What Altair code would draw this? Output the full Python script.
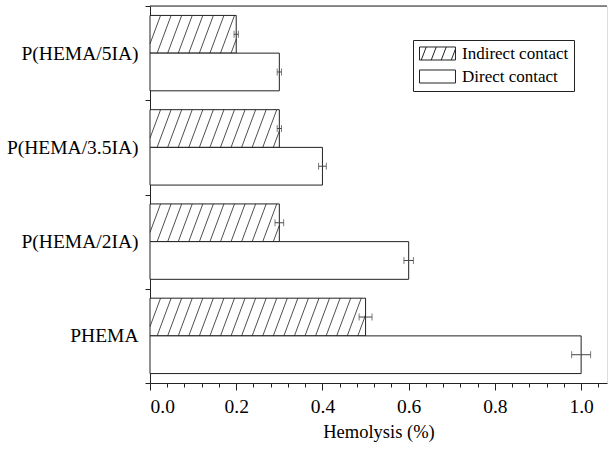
import json
import altair as alt
import pandas as pd

categories = ["P(HEMA/5IA)", "P(HEMA/3.5IA)", "P(HEMA/2IA)", "PHEMA"]
series = ["Indirect contact", "Direct contact"]
indirect = [0.20, 0.30, 0.30, 0.50]
direct = [0.30, 0.40, 0.60, 1.00]
indirect_err = [0.005, 0.005, 0.010, 0.015]
direct_err = [0.005, 0.009, 0.011, 0.022]
x_tick_values = [0.0, 0.04, 0.08, 0.12, 0.16, 0.2, 0.24, 0.28, 0.32, 0.36, 0.4,
                 0.44, 0.48, 0.52, 0.56, 0.6, 0.64, 0.68, 0.72, 0.76, 0.8,
                 0.84, 0.88, 0.92, 0.96, 1.0, 1.04]

FONT = "Liberation Serif"
INK = "#222222"
W, H = 457, 377
HATCH_STEP = 0.0245   # horizontal hatch spacing, in x units
HATCH_RUN = 0.0325    # horizontal run of one hatch stroke, in x units

rows = []
for c, a, b, ea, eb in zip(categories, indirect, direct, indirect_err, direct_err):
    rows.append({"cat": c, "series": series[0], "value": a, "err": ea})
    rows.append({"cat": c, "series": series[1], "value": b, "err": eb})
df = pd.DataFrame(rows)

base = alt.Chart(df).transform_calculate(
    lo="datum.value - datum.err", hi="datum.value + datum.err"
)

major = "abs(datum.value*5 - round(datum.value*5)) < 0.01"

x_axis = alt.Axis(
    values=x_tick_values, title="Hemolysis (%)",
    labelExpr=f"{major} ? format(datum.value, '.1f') : ''",
    tickSize={"condition": {"test": major, "value": 7}, "value": 4},
    labelPadding=7, titlePadding=7, labelOverlap=False,
    labelFont=FONT, labelFontSize=19.5, titleFont=FONT, titleFontSize=18.5,
    titleFontWeight="normal", labelColor="black", titleColor="black",
    domainColor=INK, tickColor=INK, grid=False,
)
x_scale = alt.Scale(domain=[0, 1.06], nice=False, zero=True)

y_enc = alt.Y(
    "cat:N", sort=categories,
    scale=alt.Scale(domain=categories, paddingInner=0, paddingOuter=0),
    axis=alt.Axis(title=None, tickBand="extent", tickSize=5, labelPadding=7,
                  labelFont=FONT, labelFontSize=19.5, labelColor="black",
                  domainColor=INK, tickColor=INK, grid=False),
)
yoff = alt.YOffset(
    "series:N", sort=series,
    scale=alt.Scale(domain=series, paddingInner=0, paddingOuter=0.25),
)

bars = base.mark_bar(fill="white", stroke=INK, strokeWidth=1).encode(
    x=alt.X("value:Q", scale=x_scale, axis=x_axis), y=y_enc, yOffset=yoff
)
err = base.mark_rule(color="#444444", strokeWidth=1).encode(
    x=alt.X("lo:Q", scale=x_scale, axis=x_axis), x2="hi:Q", y=y_enc, yOffset=yoff
)
cap_lo = base.mark_tick(color="#444444", orient="vertical", size=7, thickness=1).encode(
    x=alt.X("lo:Q", scale=x_scale, axis=x_axis), y=y_enc, yOffset=yoff
)
cap_hi = base.mark_tick(color="#444444", orient="vertical", size=7, thickness=1).encode(
    x=alt.X("hi:Q", scale=x_scale, axis=x_axis), y=y_enc, yOffset=yoff
)

hatch_path = ("M-1,-0.93H4.14V0.93H-1Z "
              "M-0.75,0.93L-0.04,-0.93 M0.68,0.93L1.39,-0.93 "
              "M2.11,0.93L2.82,-0.93 M3.54,0.93L4.14,-0.64")
rect_path = "M-1,-0.93H4.14V0.93H-1Z"

legend_pts = base.mark_point(opacity=0).encode(
    x=alt.X("value:Q", scale=x_scale, axis=x_axis), y=y_enc, yOffset=yoff,
    shape=alt.Shape(
        "series:N", sort=series,
        scale=alt.Scale(domain=series, range=[hatch_path, rect_path]),
        legend=alt.Legend(
            title=None, orient="none", legendX=263, legendY=34,
            labelFont=FONT, labelFontSize=17, labelColor="black",
            symbolSize=196, symbolFillColor="white", symbolStrokeColor=INK,
            symbolStrokeWidth=1, symbolOpacity=1, labelOffset=27,
            padding=5, rowPadding=4, strokeColor=INK, fillColor="white",
        ),
    ),
)

hatch_df = pd.DataFrame({"cat": categories, "value": indirect})
hatch = alt.Chart(hatch_df).transform_calculate(
    k=f"indexof({json.dumps(categories)}, datum.cat)",
    j="sequence(0, 60)",
).transform_flatten(["j"]).transform_calculate(
    x0=f"-{HATCH_RUN} + datum.j * {HATCH_STEP}"
).transform_filter(
    f"datum.x0 < datum.value && datum.x0 + {HATCH_RUN} > 0"
).transform_calculate(
    xa="max(datum.x0, 0)",
    xb=f"min(datum.x0 + {HATCH_RUN}, datum.value)",
    ybot="datum.k + 0.5",
).transform_calculate(
    ya=f"datum.ybot - (datum.xa - datum.x0) / {HATCH_RUN} * 0.4",
    yb=f"datum.ybot - (datum.xb - datum.x0) / {HATCH_RUN} * 0.4",
).mark_rule(color=INK, strokeWidth=0.8).encode(
    x=alt.X("xa:Q", scale=x_scale, axis=x_axis), x2="xb:Q",
    y=alt.Y("ya:Q", scale=alt.Scale(domain=[0, 4], reverse=True, nice=False, zero=False),
            axis=None),
    y2="yb:Q",
)

top_line = alt.Chart(pd.DataFrame({"a": [0]})).mark_rule(color=INK, strokeWidth=1).encode(
    x=alt.value(0), x2=alt.value(W), y=alt.value(0)
)

main = alt.layer(bars, err, cap_lo, cap_hi, legend_pts)

chart = alt.layer(main, hatch, top_line).resolve_scale(y="independent").properties(
    width=W, height=H,
    padding={"left": 150, "top": 6, "right": 1, "bottom": 66},
    autosize=alt.AutoSizeParams(type="none"),
).configure_view(stroke=None).configure(background="white")

chart.save("out.html", embed_options={"renderer": "svg", "actions": False})
